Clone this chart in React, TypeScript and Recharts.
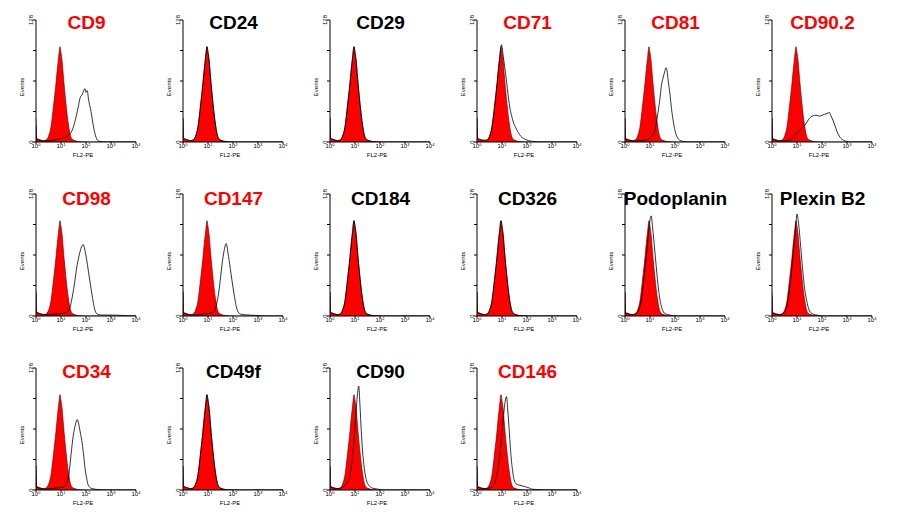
import React from 'react';
import { ComposedChart, Area, Line, XAxis, YAxis } from 'recharts';

type Pt = [number, number];

// FL2-PE axis is in decades (10^0 .. 10^4), events axis is 0..128
const decadeTicks = [0, 1, 2, 3, 4];
const eventTicks = [0, 32, 64, 96, 128];

const markerRows = [
  ['CD9', 'CD24', 'CD29', 'CD71', 'CD81', 'CD90.2'],
  ['CD98', 'CD147', 'CD184', 'CD326', 'Podoplanin', 'Plexin B2'],
  ['CD34', 'CD49f', 'CD90', 'CD146'],
];

const positiveMarkers = ['CD9', 'CD71', 'CD81', 'CD90.2', 'CD98', 'CD147', 'CD34', 'CD146'];

// isotype control (red filled)
const isotype: Pt[] = [
  [0, 25], [0.02, 4], [0.1, 3], [0.2, 2], [0.3, 1.5], [0.4, 2], [0.5, 6], [0.6, 16],
  [0.7, 38], [0.8, 62], [0.85, 76], [0.9, 88], [0.96, 100], [1.0, 94], [1.05, 84],
  [1.1, 68], [1.2, 40], [1.3, 18], [1.4, 5], [1.5, 2], [1.7, 0.5], [2, 0], [4, 0],
];

const cd9: Pt[] = [
  [0, 17], [0.02, 3], [0.3, 1], [0.6, 1.5], [0.9, 3], [1.1, 4], [1.2, 5], [1.3, 7],
  [1.4, 10], [1.5, 16], [1.6, 26], [1.7, 38], [1.76, 46], [1.85, 50], [1.96, 56],
  [2.0, 52], [2.05, 54], [2.1, 45], [2.2, 32], [2.3, 16], [2.4, 5], [2.5, 1], [2.7, 0], [4, 0],
];

const cd71: Pt[] = [
  [0, 25], [0.02, 4], [0.2, 2], [0.4, 2], [0.5, 6], [0.6, 16], [0.7, 36], [0.8, 60],
  [0.9, 86], [0.98, 102], [1.05, 90], [1.1, 80], [1.18, 64], [1.25, 48], [1.32, 35],
  [1.4, 26], [1.45, 21], [1.55, 15], [1.65, 10], [1.75, 6], [1.85, 4], [2.05, 1.5],
  [2.3, 0.5], [2.6, 0], [4, 0],
];

const cd81: Pt[] = [
  [0, 25], [0.02, 3], [0.4, 1], [0.8, 2], [1.0, 4], [1.1, 7], [1.19, 12], [1.25, 20],
  [1.32, 31], [1.4, 46], [1.46, 60], [1.52, 67], [1.57, 72], [1.64, 78], [1.68, 75],
  [1.73, 64], [1.8, 50], [1.86, 35], [1.93, 22], [2.0, 12], [2.07, 6], [2.14, 3],
  [2.27, 1], [2.5, 0], [4, 0],
];

const cd902: Pt[] = [
  [0, 25], [0.02, 3], [0.4, 1], [0.7, 2], [0.85, 4], [0.95, 7], [1.05, 11], [1.15, 14],
  [1.2, 15], [1.3, 17], [1.4, 21], [1.5, 25], [1.6, 27], [1.7, 28], [1.8, 28], [1.9, 27],
  [2.0, 28], [2.1, 29], [2.2, 30], [2.3, 31], [2.35, 28], [2.45, 22], [2.52, 17],
  [2.6, 11], [2.72, 5], [2.85, 2], [2.95, 1], [3.1, 0], [4, 0],
];

const cd98: Pt[] = [
  [0, 26], [0.02, 4], [0.4, 1.5], [0.8, 2], [1.1, 3], [1.23, 4], [1.36, 9], [1.45, 20],
  [1.55, 36], [1.63, 51], [1.72, 63], [1.8, 71], [1.89, 75], [1.95, 70], [2.02, 60],
  [2.09, 48], [2.16, 36], [2.23, 24], [2.3, 13], [2.36, 6], [2.45, 2], [2.6, 1],
  [3.0, 1], [3.5, 0.5], [4, 0],
];

const cd147: Pt[] = [
  [0, 26], [0.02, 3], [0.4, 1], [0.8, 2], [1.1, 3], [1.23, 4], [1.33, 11], [1.43, 25],
  [1.5, 40], [1.56, 54], [1.64, 68], [1.73, 76], [1.8, 66], [1.89, 50], [1.96, 37],
  [2.03, 25], [2.1, 14], [2.16, 7], [2.29, 2], [2.6, 1], [3.0, 0.5], [3.3, 0], [4, 0],
];

const podoplanin: Pt[] = [
  [0, 25], [0.02, 3], [0.3, 1.5], [0.5, 4], [0.6, 10], [0.7, 26], [0.8, 50], [0.9, 75],
  [0.97, 95], [1.05, 105], [1.1, 94], [1.2, 66], [1.3, 38], [1.35, 26], [1.42, 14],
  [1.48, 8], [1.6, 2.5], [1.8, 1], [2, 0], [4, 0],
];

const plexinB2: Pt[] = [
  [0, 20], [0.02, 3], [0.3, 1.5], [0.5, 4], [0.6, 11], [0.7, 28], [0.8, 52], [0.9, 80],
  [0.96, 98], [1.0, 107], [1.05, 100], [1.15, 72], [1.25, 42], [1.31, 28], [1.38, 17],
  [1.44, 10], [1.57, 3], [1.8, 1], [2, 0], [4, 0],
];

const cd34: Pt[] = [
  [0, 26], [0.02, 3], [0.4, 1], [0.8, 2], [1.05, 3], [1.16, 5], [1.29, 12], [1.35, 24],
  [1.4, 37], [1.49, 57], [1.57, 68], [1.65, 74], [1.7, 70], [1.76, 62], [1.83, 52],
  [1.9, 38], [1.96, 23], [2.03, 12], [2.09, 5], [2.23, 1.5], [2.5, 0.5], [2.8, 0], [4, 0],
];

const cd90: Pt[] = [
  [0, 25], [0.02, 3], [0.3, 1.5], [0.5, 3], [0.7, 8], [0.8, 16], [0.88, 30], [0.97, 55],
  [1.03, 78], [1.08, 95], [1.15, 109], [1.2, 88], [1.25, 62], [1.3, 42], [1.37, 23],
  [1.45, 11], [1.55, 5], [1.7, 2], [1.9, 1], [2.1, 0], [4, 0],
];

const cd146: Pt[] = [
  [0, 25], [0.02, 3], [0.3, 1.5], [0.5, 2], [0.7, 6], [0.78, 15], [0.85, 24], [0.91, 35],
  [0.98, 55], [1.05, 75], [1.11, 90], [1.18, 98], [1.23, 84], [1.29, 62], [1.33, 46],
  [1.38, 30], [1.43, 19], [1.48, 11], [1.58, 6], [1.72, 5], [1.85, 4], [1.99, 3],
  [2.1, 2], [2.19, 1], [2.4, 0.5], [2.7, 0], [4, 0],
];

// markers whose stained curve sits on top of the isotype
const stained: Record<string, Pt[]> = {
  CD9: cd9,
  CD24: isotype,
  CD29: isotype,
  CD71: cd71,
  CD81: cd81,
  'CD90.2': cd902,
  CD98: cd98,
  CD147: cd147,
  CD184: isotype,
  CD326: isotype,
  Podoplanin: podoplanin,
  'Plexin B2': plexinB2,
  CD34: cd34,
  CD49f: isotype,
  CD90: cd90,
  CD146: cd146,
};

const toPoints = (pairs: Pt[]) => pairs.map(([x, y]) => ({ x, y }));

const colLefts = [0, 147, 294, 441, 589, 736];
const rowTops = [0, 174, 348];
const titleBaselines = [29.5, 205, 378];

const DecadeTick = (props: any) => {
  const { x, y, payload } = props;
  return (
    <text x={x} y={y + 4} textAnchor='middle' fontSize={6} fill='#000'>
      10
      <tspan dy={-2.5} fontSize={4}>
        {payload.value}
      </tspan>
    </text>
  );
};

const EventTick = (props: any) => {
  const { x, y, payload } = props;
  if (payload.value !== 0 && payload.value !== 128) return <g />;
  const bx = x - 0.5;
  return (
    <text
      x={bx}
      y={y}
      transform={`rotate(-90 ${bx} ${y})`}
      textAnchor='middle'
      fontSize={6}
      fill='#000'
    >
      {payload.value}
    </text>
  );
};

const EventsLabel = (props: any) => {
  const { viewBox } = props;
  const cx = viewBox.x + viewBox.width - 12;
  const cy = viewBox.y + viewBox.height / 2 + 6;
  return (
    <text x={cx} y={cy} transform={`rotate(-90 ${cx} ${cy})`} textAnchor='middle' fontSize={6} fill='#000'>
      Events
    </text>
  );
};

const FlLabel = (props: any) => {
  const { viewBox } = props;
  return (
    <text x={viewBox.x + 47} y={viewBox.y + 15} textAnchor='middle' fontSize={6} fill='#000'>
      FL2-PE
    </text>
  );
};

function Panel({ name, row, col }: { name: string; row: number; col: number }) {
  const left = colLefts[col];
  const top = rowTops[row];
  const color = positiveMarkers.includes(name) ? '#ff0000' : '#000000';
  return (
    <div style={{ position: 'absolute', left, top, width: 147, height: 172 }}>
      <ComposedChart width={147} height={172} margin={{ top: 20, right: 11, bottom: 0, left: 0 }}>
        <XAxis
          type='number'
          dataKey='x'
          domain={[0, 4]}
          ticks={decadeTicks}
          allowDataOverflow
          interval={0}
          height={30}
          tickSize={2}
          tickMargin={0}
          axisLine={{ stroke: '#000', strokeWidth: 1 }}
          tickLine={{ stroke: '#000' }}
          tick={<DecadeTick />}
          label={<FlLabel />}
        />
        <YAxis
          type='number'
          domain={[0, 128]}
          ticks={eventTicks}
          allowDataOverflow
          interval={0}
          width={36}
          tickSize={3}
          tickMargin={0}
          axisLine={{ stroke: '#000', strokeWidth: 1 }}
          tickLine={{ stroke: '#000' }}
          tick={<EventTick />}
          label={<EventsLabel />}
        />
        <Area
          data={toPoints(isotype)}
          dataKey='y'
          type='monotone'
          fill='#ff0000'
          fillOpacity={1}
          stroke='#500000'
          strokeWidth={0.6}
          dot={false}
          activeDot={false}
          isAnimationActive={false}
        />
        <Line
          data={toPoints(stained[name])}
          dataKey='y'
          type='monotone'
          stroke='#000'
          strokeWidth={0.8}
          dot={false}
          activeDot={false}
          isAnimationActive={false}
        />
      </ComposedChart>
      <div
        style={{
          position: 'absolute',
          left: 36 + 50.5 - 70,
          width: 140,
          top: titleBaselines[row] - top - 16.1,
          textAlign: 'center',
          fontFamily: '"Liberation Sans", Arial, sans-serif',
          fontWeight: 'bold',
          fontSize: 19,
          lineHeight: '19px',
          color,
          whiteSpace: 'nowrap',
        }}
      >
        {name}
      </div>
    </div>
  );
}

export default function App() {
  return (
    <div
      style={{
        position: 'absolute',
        left: 0,
        top: 0,
        width: 910,
        height: 522,
        background: '#fff',
        fontFamily: '"Liberation Sans", Arial, sans-serif',
      }}
    >
      {markerRows.map((names, row) =>
        names.map((name, col) => <Panel key={name} name={name} row={row} col={col} />)
      )}
    </div>
  );
}
